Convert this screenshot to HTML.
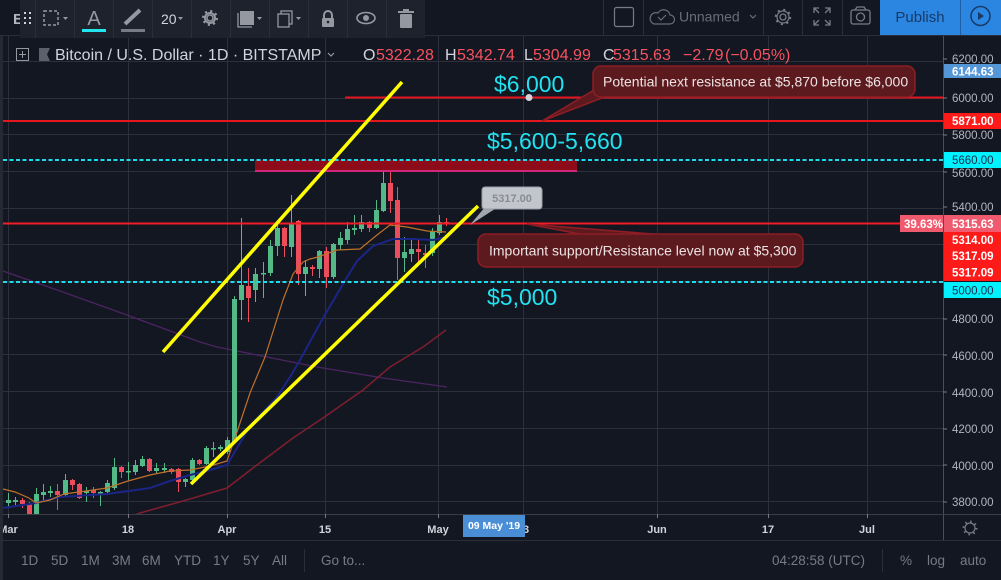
<!DOCTYPE html>
<html><head><meta charset="utf-8">
<style>
html,body{margin:0;padding:0;background:#131722;}
body{width:1001px;height:580px;overflow:hidden;}
svg{display:block;font-family:"Liberation Sans",Arial,sans-serif;}
</style></head><body>
<svg width="1001" height="580" viewBox="0 0 1001 580" xmlns="http://www.w3.org/2000/svg">
<defs>
<clipPath id="plot"><rect x="3" y="36" width="940" height="478"/></clipPath>
</defs>
<rect width="1001" height="580" fill="#131722"/>
<rect x="0" y="36" width="3" height="544" fill="#252933"/>

<!-- grid -->
<g stroke="#2c303b" stroke-width="1">
<line x1="8.5" y1="36" x2="8.5" y2="514"/>
<line x1="128.5" y1="36" x2="128.5" y2="514"/>
<line x1="227.5" y1="36" x2="227.5" y2="514"/>
<line x1="325.5" y1="36" x2="325.5" y2="514"/>
<line x1="438.5" y1="36" x2="438.5" y2="514"/>
<line x1="523.5" y1="36" x2="523.5" y2="514"/>
<line x1="657.5" y1="36" x2="657.5" y2="514"/>
<line x1="768.5" y1="36" x2="768.5" y2="514"/>
<line x1="867.5" y1="36" x2="867.5" y2="514"/>
<line x1="3" y1="61.5" x2="943" y2="61.5"/>
<line x1="3" y1="98.5" x2="943" y2="98.5"/>
<line x1="3" y1="134.5" x2="943" y2="134.5"/>
<line x1="3" y1="171.5" x2="943" y2="171.5"/>
<line x1="3" y1="208.5" x2="943" y2="208.5"/>
<line x1="3" y1="244.5" x2="943" y2="244.5"/>
<line x1="3" y1="281.5" x2="943" y2="281.5"/>
<line x1="3" y1="318.5" x2="943" y2="318.5"/>
<line x1="3" y1="354.5" x2="943" y2="354.5"/>
<line x1="3" y1="391.5" x2="943" y2="391.5"/>
<line x1="3" y1="428.5" x2="943" y2="428.5"/>
<line x1="3" y1="465.5" x2="943" y2="465.5"/>
<line x1="3" y1="501.5" x2="943" y2="501.5"/>
</g>

<g clip-path="url(#plot)">
<!-- purple MA -->
<polyline fill="none" stroke="#4b2461" stroke-width="1.3" points="3,271 60,291 127,315 200,342 217,347 317,367 383,378 447,387"/>
<!-- dark red MA -->
<polyline fill="none" stroke="#7d1e2e" stroke-width="1.6" points="125,519 140,513 183,501 227,488 253,468 293,438 323,418 363,390 390,367 423,347 446,330"/>

<!-- candles -->
<g id="candles">
<g fill="#53b987" stroke="#53b987">
<line x1="8.5" y1="493" x2="8.5" y2="508"/><rect x="6" y="500" width="5" height="3" stroke="none"/>
<line x1="15.5" y1="497" x2="15.5" y2="505"/><rect x="13" y="500" width="5" height="2" stroke="none"/>
<line x1="36.5" y1="488" x2="36.5" y2="514"/><rect x="34" y="494" width="5" height="20" stroke="none"/>
<line x1="43.5" y1="484" x2="43.5" y2="500"/><rect x="41" y="492" width="5" height="3" stroke="none"/>
<line x1="50.5" y1="486" x2="50.5" y2="497"/><rect x="48" y="491" width="5" height="2" stroke="none"/>
<line x1="65.5" y1="474" x2="65.5" y2="497"/><rect x="63" y="480" width="5" height="15" stroke="none"/>
<line x1="86.5" y1="487" x2="86.5" y2="502"/><rect x="84" y="491" width="5" height="2" stroke="none"/>
<line x1="100.5" y1="491" x2="100.5" y2="506"/><rect x="98" y="492" width="5" height="1.5" stroke="none"/>
<line x1="107.5" y1="480" x2="107.5" y2="495"/><rect x="105" y="483" width="5" height="9" stroke="none"/>
<line x1="114.5" y1="458" x2="114.5" y2="490"/><rect x="112" y="467" width="5" height="21" stroke="none"/>
<line x1="128.5" y1="462" x2="128.5" y2="480"/><rect x="126" y="471" width="5" height="1.5" stroke="none"/>
<line x1="135.5" y1="460" x2="135.5" y2="475"/><rect x="133" y="465" width="5" height="7" stroke="none"/>
<line x1="142.5" y1="456" x2="142.5" y2="467"/><rect x="140" y="459" width="5" height="7" stroke="none"/>
<line x1="156.5" y1="463" x2="156.5" y2="473"/><rect x="154" y="468" width="5" height="3" stroke="none"/>
<line x1="164.5" y1="463" x2="164.5" y2="473"/><rect x="162" y="468" width="5" height="2" stroke="none"/>
<line x1="185.5" y1="478" x2="185.5" y2="487"/><rect x="183" y="479" width="5" height="3" stroke="none"/>
<line x1="192.5" y1="458" x2="192.5" y2="482"/><rect x="190" y="460" width="5" height="20" stroke="none"/>
<line x1="206.5" y1="446" x2="206.5" y2="465"/><rect x="204" y="448" width="5" height="16" stroke="none"/>
<line x1="213.5" y1="442" x2="213.5" y2="457"/><rect x="211" y="448" width="5" height="1.5" stroke="none"/>
<line x1="220.5" y1="445" x2="220.5" y2="451"/><rect x="218" y="447" width="5" height="2" stroke="none"/>
<line x1="227.5" y1="437" x2="227.5" y2="454"/><rect x="225" y="440" width="5" height="12" stroke="none"/>
<line x1="234.5" y1="296" x2="234.5" y2="443"/><rect x="232" y="299" width="5" height="143" stroke="none"/>
<line x1="241.5" y1="218" x2="241.5" y2="320"/><rect x="239" y="285" width="5" height="15" stroke="none"/>
<line x1="255.5" y1="268" x2="255.5" y2="302"/><rect x="253" y="274" width="5" height="16" stroke="none"/>
<line x1="263.5" y1="262" x2="263.5" y2="298"/><rect x="261" y="273" width="5" height="1.5" stroke="none"/>
<line x1="270.5" y1="240" x2="270.5" y2="276"/><rect x="268" y="246" width="5" height="27" stroke="none"/>
<line x1="277.5" y1="222" x2="277.5" y2="256"/><rect x="275" y="228" width="5" height="18" stroke="none"/>
<line x1="291.5" y1="195" x2="291.5" y2="257"/><rect x="289" y="223" width="5" height="24" stroke="none"/>
<line x1="305.5" y1="260" x2="305.5" y2="296"/><rect x="303" y="267" width="5" height="7" stroke="none"/>
<line x1="319.5" y1="250" x2="319.5" y2="278"/><rect x="317" y="251" width="5" height="18" stroke="none"/>
<line x1="333.5" y1="243" x2="333.5" y2="279"/><rect x="331" y="244" width="5" height="33" stroke="none"/>
<line x1="340.5" y1="232" x2="340.5" y2="250"/><rect x="338" y="238" width="5" height="7" stroke="none"/>
<line x1="347.5" y1="222" x2="347.5" y2="244"/><rect x="345" y="229" width="5" height="11" stroke="none"/>
<line x1="354.5" y1="215" x2="354.5" y2="235"/><rect x="352" y="228" width="5" height="2" stroke="none"/>
<line x1="361.5" y1="215" x2="361.5" y2="232"/><rect x="359" y="222" width="5" height="7" stroke="none"/>
<line x1="376.5" y1="200" x2="376.5" y2="229"/><rect x="374" y="210" width="5" height="18" stroke="none"/>
<line x1="383.5" y1="165" x2="383.5" y2="212"/><rect x="381" y="183" width="5" height="28" stroke="none"/>
<line x1="404.5" y1="237" x2="404.5" y2="272"/><rect x="402" y="252" width="5" height="6" stroke="none"/>
<line x1="411.5" y1="240" x2="411.5" y2="262"/><rect x="409" y="249" width="5" height="5" stroke="none"/>
<line x1="432.5" y1="228" x2="432.5" y2="256"/><rect x="430" y="231" width="5" height="22" stroke="none"/>
<line x1="439.5" y1="215" x2="439.5" y2="235"/><rect x="437" y="222" width="5" height="11" stroke="none"/>
</g>
<g fill="#eb4d5c" stroke="#eb4d5c">
<line x1="22.5" y1="498" x2="22.5" y2="508"/><rect x="20" y="500" width="5" height="4" stroke="none"/>
<line x1="29.5" y1="502" x2="29.5" y2="514"/><rect x="27" y="504" width="5" height="10" stroke="none"/>
<line x1="57.5" y1="484" x2="57.5" y2="510"/><rect x="55" y="491" width="5" height="4" stroke="none"/>
<line x1="72.5" y1="479" x2="72.5" y2="490"/><rect x="70" y="480" width="5" height="5" stroke="none"/>
<line x1="79.5" y1="483" x2="79.5" y2="499"/><rect x="77" y="484" width="5" height="14" stroke="none"/>
<line x1="93.5" y1="487" x2="93.5" y2="498"/><rect x="91" y="490" width="5" height="3" stroke="none"/>
<line x1="121.5" y1="466" x2="121.5" y2="478"/><rect x="119" y="467" width="5" height="5" stroke="none"/>
<line x1="149.5" y1="458" x2="149.5" y2="472"/><rect x="147" y="459" width="5" height="12" stroke="none"/>
<line x1="171.5" y1="468" x2="171.5" y2="474"/><rect x="169" y="469" width="5" height="3" stroke="none"/>
<line x1="178.5" y1="468" x2="178.5" y2="492"/><rect x="176" y="469" width="5" height="13" stroke="none"/>
<line x1="199.5" y1="459" x2="199.5" y2="465"/><rect x="197" y="460" width="5" height="4" stroke="none"/>
<line x1="248.5" y1="268" x2="248.5" y2="322"/><rect x="246" y="286" width="5" height="12" stroke="none"/>
<line x1="284.5" y1="227" x2="284.5" y2="257"/><rect x="282" y="228" width="5" height="18" stroke="none"/>
<line x1="298.5" y1="220" x2="298.5" y2="285"/><rect x="296" y="221" width="5" height="53" stroke="none"/>
<line x1="312.5" y1="265" x2="312.5" y2="276"/><rect x="310" y="267" width="5" height="2" stroke="none"/>
<line x1="326.5" y1="247" x2="326.5" y2="288"/><rect x="324" y="251" width="5" height="26" stroke="none"/>
<line x1="369.5" y1="221" x2="369.5" y2="232"/><rect x="367" y="222" width="5" height="6" stroke="none"/>
<line x1="390.5" y1="170" x2="390.5" y2="213"/><rect x="388" y="183" width="5" height="18" stroke="none"/>
<line x1="397.5" y1="187" x2="397.5" y2="280"/><rect x="395" y="200" width="5" height="58" stroke="none"/>
<line x1="418.5" y1="240" x2="418.5" y2="262"/><rect x="416" y="249" width="5" height="3" stroke="none"/>
<line x1="425.5" y1="245" x2="425.5" y2="268"/><rect x="423" y="253" width="5" height="2" stroke="none"/>
<line x1="446.5" y1="218" x2="446.5" y2="226"/><rect x="444" y="222" width="5" height="1.5" stroke="none"/>
</g>
</g>

<!-- blue MA -->
<polyline fill="none" stroke="#1a2585" stroke-width="2" points="3,508 36,503 60,497 107,494 150,488 170,481 190,475 210,470 227,465 237,448 250,426 277,397 290,377 300,360 323,318 343,284 357,261 373,246 393,239 413,239 433,240 446,237"/>
<!-- orange MA -->
<polyline fill="none" stroke="#c0702a" stroke-width="1.2" points="3,489 15,492 29,498 36,503 50,500 64,494 86,491 107,488 128,481 150,475 170,471 190,470 210,466 227,461 237,432 250,393 265,357 283,300 293,274 303,262 310,259 318,257 337,250 360,249 377,235 390,225 407,227 427,231 446,232"/>
</g>

<!-- rectangle zone -->
<rect x="255" y="160" width="322" height="11" fill="#8e0c19"/>
<rect x="255" y="170" width="322" height="2" fill="#d3267a"/>

<!-- horizontal lines -->
<line x1="345" y1="97.5" x2="943" y2="97.5" stroke="#e5161e" stroke-width="2"/>
<line x1="3" y1="121" x2="943" y2="121" stroke="#e5161e" stroke-width="2"/>
<line x1="3" y1="160" x2="943" y2="160" stroke="#1fdcec" stroke-width="2" stroke-dasharray="4 2.5"/>
<line x1="3" y1="223.5" x2="943" y2="223.5" stroke="#f01c26" stroke-width="2"/>
<line x1="3" y1="282" x2="943" y2="282" stroke="#1fdcec" stroke-width="2" stroke-dasharray="4 2.5"/>
<circle cx="529" cy="97.5" r="3.5" fill="#d1d4dc"/>

<!-- yellow channel -->
<line x1="163" y1="352" x2="402" y2="82" stroke="#ffff00" stroke-width="3.5"/>
<line x1="191" y1="484" x2="478" y2="206" stroke="#ffff00" stroke-width="3.5"/>

<!-- cyan level texts -->
<g fill="#22e2ef" font-size="23">
<text x="494" y="92">$6,000</text>
<text x="487" y="149">$5,600-5,660</text>
<text x="487" y="305">$5,000</text>
</g>

<!-- callout 1 -->
<g fill="#5c1a1f" stroke="#8f1d25" stroke-width="1.5">
<polygon points="542,121 594,90 607,96"/>
<rect x="593" y="66" width="322" height="31" rx="8"/>
<polygon points="527,224 585,235 665,235"/>
<rect x="478" y="234" width="325" height="33" rx="8"/>
</g>
<rect x="596" y="86" width="16" height="9" fill="#5c1a1f"/>
<rect x="590" y="235" width="70" height="3" fill="#5c1a1f"/>
<g fill="#ece4e4" font-size="14">
<text x="603" y="86.5">Potential next resistance at $5,870 before $6,000</text>
<text x="489" y="255.5">Important support/Resistance level now at $5,300</text>
</g>

<!-- gray price callout -->
<polygon points="470,225 485,207 498,207" fill="#a3a6ae"/>
<rect x="482" y="187" width="60" height="22" rx="3" fill="#c2c5cc" stroke="#9a9da6"/>
<text x="512" y="202" font-size="11" font-weight="bold" fill="#888c96" text-anchor="middle">5317.00</text>

<!-- price axis -->
<line x1="943.5" y1="35" x2="943.5" y2="540" stroke="#4a4e59"/>
<g stroke="#787b86">
<line x1="943" y1="59" x2="947" y2="59"/><line x1="943" y1="98" x2="947" y2="98"/>
<line x1="943" y1="135" x2="947" y2="135"/><line x1="943" y1="172" x2="947" y2="172"/>
<line x1="943" y1="207" x2="947" y2="207"/><line x1="943" y1="319" x2="947" y2="319"/>
<line x1="943" y1="355" x2="947" y2="355"/><line x1="943" y1="392" x2="947" y2="392"/>
<line x1="943" y1="429" x2="947" y2="429"/><line x1="943" y1="465" x2="947" y2="465"/>
<line x1="943" y1="502" x2="947" y2="502"/>
</g>
<g fill="#b2b5be" font-size="11.5">
<text x="952" y="63">6200.00</text>
<text x="952" y="102">6000.00</text>
<text x="952" y="139">5800.00</text>
<text x="952" y="177">5600.00</text>
<text x="952" y="211">5400.00</text>
<text x="952" y="323">4800.00</text>
<text x="952" y="360">4600.00</text>
<text x="952" y="397">4400.00</text>
<text x="952" y="433">4200.00</text>
<text x="952" y="470">4000.00</text>
<text x="952" y="506">3800.00</text>
</g>
<rect x="944" y="64" width="57" height="14" fill="#5596d6"/>
<rect x="944" y="113" width="57" height="16" fill="#ff1a1a"/>
<rect x="944" y="152" width="57" height="16" fill="#00f2ff"/>
<rect x="944" y="215" width="57" height="17" fill="#f05a6e"/>
<rect x="900" y="215" width="43" height="17" fill="#f05a6e"/>
<rect x="944" y="232" width="57" height="16" fill="#ff1a1a"/>
<rect x="944" y="248" width="57" height="16" fill="#ff1a1a"/>
<rect x="944" y="264" width="57" height="17" fill="#ff1a1a"/>
<rect x="944" y="282" width="57" height="16" fill="#00f2ff"/>
<g font-size="11.5" font-weight="bold" fill="#ffffff">
<text x="952" y="75.5">6144.63</text>
<text x="952" y="125">5871.00</text>
<text x="952" y="228">5315.63</text>
<text x="904" y="228">39.63%</text>
<text x="952" y="244">5314.00</text>
<text x="952" y="260">5317.09</text>
<text x="952" y="276.5">5317.09</text>
</g>
<g font-size="11.5" fill="#1a2a48">
<text x="952" y="164">5660.00</text>
<text x="952" y="294.5">5000.00</text>
</g>

<!-- time axis -->
<line x1="0" y1="514.5" x2="1001" y2="514.5" stroke="#3a3e49"/>
<g stroke="#787b86">
<line x1="8.5" y1="514" x2="8.5" y2="518"/><line x1="128.5" y1="514" x2="128.5" y2="518"/>
<line x1="227.5" y1="514" x2="227.5" y2="518"/><line x1="325.5" y1="514" x2="325.5" y2="518"/>
<line x1="438.5" y1="514" x2="438.5" y2="518"/><line x1="657.5" y1="514" x2="657.5" y2="518"/>
<line x1="768.5" y1="514" x2="768.5" y2="518"/><line x1="867.5" y1="514" x2="867.5" y2="518"/>
</g>
<g fill="#d1d4dc" font-size="11" font-weight="bold" text-anchor="middle">
<text x="8" y="533">Mar</text>
<text x="128" y="533">18</text>
<text x="227" y="533">Apr</text>
<text x="325" y="533">15</text>
<text x="438" y="533">May</text>
<text x="523" y="533">13</text>
<text x="657" y="533">Jun</text>
<text x="768" y="533">17</text>
<text x="867" y="533">Jul</text>
</g>
<rect x="0" y="514" width="3" height="26" fill="#252933"/>
<rect x="463" y="515" width="62" height="22" fill="#4a8fd6"/>
<text x="494" y="529" fill="#ffffff" font-size="10.5" font-weight="bold" text-anchor="middle">09 May '19</text>
<!-- gear bottom right -->
<g transform="translate(970,528)" fill="none" stroke="#787b86">
<circle r="5" stroke-width="1.2"/>
<circle r="6.5" stroke-width="2" stroke-dasharray="1.5 3.6"/>
</g>

<!-- bottom bar -->
<line x1="0" y1="540.5" x2="1001" y2="540.5" stroke="#2a2e39"/>
<g fill="#787b86" font-size="13.5">
<text x="21" y="565">1D</text>
<text x="51" y="565">5D</text>
<text x="81" y="565">1M</text>
<text x="112" y="565">3M</text>
<text x="142" y="565">6M</text>
<text x="174" y="565">YTD</text>
<text x="213" y="565">1Y</text>
<text x="243" y="565">5Y</text>
<text x="272" y="565">All</text>
<text x="321" y="565">Go to...</text>
<text x="772" y="565">04:28:58 (UTC)</text>
<text x="900" y="565">%</text>
<text x="927" y="565">log</text>
<text x="960" y="565">auto</text>
</g>
<line x1="304.5" y1="549" x2="304.5" y2="572" stroke="#2a2e39"/>
<line x1="882.5" y1="549" x2="882.5" y2="572" stroke="#2a2e39"/>

<!-- header legend -->
<g fill="none" stroke="#9598a1">
<rect x="16.5" y="48.5" width="12" height="12"/>
<line x1="22.5" y1="51" x2="22.5" y2="58"/><line x1="19" y1="54.5" x2="26" y2="54.5"/>
</g>
<polygon points="39,48 50,48 47,54.5 50,61 39,61" fill="#5d606b"/>
<text x="55" y="60" font-size="16" fill="#d1d4dc">Bitcoin / U.S. Dollar · 1D · BITSTAMP</text>
<path d="M328 53 l3 3 l3 -3" fill="none" stroke="#9598a1" stroke-width="1.2"/>
<g font-size="16">
<text x="363" y="60" fill="#d1d4dc">O</text><text x="376" y="60" fill="#f7525f">5322.28</text>
<text x="445" y="60" fill="#d1d4dc">H</text><text x="457" y="60" fill="#f7525f">5342.74</text>
<text x="524" y="60" fill="#d1d4dc">L</text><text x="533" y="60" fill="#f7525f">5304.99</text>
<text x="603" y="60" fill="#d1d4dc">C</text><text x="613" y="60" fill="#f7525f">5315.63</text>
<text x="683" y="60" fill="#f7525f">−2.79</text>
<text x="725" y="60" fill="#f7525f">(−0.05%)</text>
</g>

<!-- top bar -->
<line x1="0" y1="35.5" x2="1001" y2="35.5" stroke="#2a2e39"/>
<text x="13" y="24" font-size="15" font-weight="bold" fill="#b2b5be">B</text>
<g stroke="#2a2e39">
<line x1="603.5" y1="0" x2="603.5" y2="35"/>
<line x1="643.5" y1="0" x2="643.5" y2="35"/>
<line x1="763.5" y1="0" x2="763.5" y2="35"/>
<line x1="802.5" y1="0" x2="802.5" y2="35"/>
<line x1="842.5" y1="0" x2="842.5" y2="35"/>
</g>
<rect x="614.5" y="7.5" width="19" height="19" rx="2" fill="none" stroke="#787b86" stroke-width="1.2"/>
<g fill="none" stroke="#6a6d78" stroke-width="1.2">
<path d="M654 24 h16 a4.5 4.5 0 0 0 0 -9 a6.5 6.5 0 0 0 -12 -2 a5.5 5.5 0 0 0 -4 11 z"/>
<path d="M658 17 l3 3 l5 -5"/>
<path d="M750 15 l3 3 l3 -3"/>
</g>
<text x="679" y="21.5" font-size="14" fill="#6a6d78">Unnamed</text>
<g transform="translate(783,17)" fill="none" stroke="#787b86">
<circle r="3" stroke-width="1.3"/>
<circle r="7" stroke-width="2.5" stroke-dasharray="2 3.5"/>
<circle r="6" stroke-width="1.2"/>
</g>
<g fill="none" stroke="#787b86" stroke-width="1.3">
<path d="M814 13 v-5 h5 M814 8 l5 5 M830 13 v-5 h-5 M830 8 l-5 5 M814 20 v5 h5 M814 25 l5 -5 M830 20 v5 h-5 M830 25 l-5 -5"/>
<rect x="851" y="10" width="19" height="14" rx="2"/>
<circle cx="860.5" cy="17" r="4"/>
<path d="M855 10 l2 -3 h7 l2 3"/>
</g>
<rect x="880" y="0" width="121" height="35" fill="#2a86e0"/>
<line x1="960.5" y1="0" x2="960.5" y2="35" stroke="#1d5fa6"/>
<text x="920" y="22" font-size="15" fill="#183a68" text-anchor="middle">Publish</text>
<circle cx="980.5" cy="16" r="9.5" fill="none" stroke="#183a68" stroke-width="1.5"/>
<polygon points="978,12 978,20 984,16" fill="#183a68"/>

<!-- floating drawing toolbar -->
<rect x="20" y="0" width="405" height="38" fill="#1e222d"/>
<g stroke="#2a2e39">
<line x1="35.5" y1="0" x2="35.5" y2="38"/>
<line x1="74.5" y1="0" x2="74.5" y2="38"/>
<line x1="113.5" y1="0" x2="113.5" y2="38"/>
<line x1="152.5" y1="0" x2="152.5" y2="38"/>
<line x1="191.5" y1="0" x2="191.5" y2="38"/>
<line x1="230.5" y1="0" x2="230.5" y2="38"/>
<line x1="269.5" y1="0" x2="269.5" y2="38"/>
<line x1="308.5" y1="0" x2="308.5" y2="38"/>
<line x1="347.5" y1="0" x2="347.5" y2="38"/>
<line x1="386.5" y1="0" x2="386.5" y2="38"/>
</g>
<g fill="#d1d4dc">
<rect x="24" y="12" width="2" height="2"/><rect x="29" y="12" width="2" height="2"/>
<rect x="24" y="17" width="2" height="2"/><rect x="29" y="17" width="2" height="2"/>
<rect x="24" y="22" width="2" height="2"/><rect x="29" y="22" width="2" height="2"/>
</g>
<rect x="44" y="11" width="14" height="14" fill="none" stroke="#9598a1" stroke-width="1.5" stroke-dasharray="3 2"/>
<g fill="#9598a1">
<polygon points="63,17 68,17 65.5,20"/>
<polygon points="178,17 183,17 180.5,20"/>
<polygon points="257,17 262,17 259.5,20"/>
<polygon points="296,17 301,17 298.5,20"/>
</g>
<text x="94" y="25" font-size="20" fill="#9598a1" text-anchor="middle">A</text>
<rect x="82" y="29" width="24" height="3" fill="#22e5ee"/>
<line x1="125" y1="24" x2="140" y2="10" stroke="#9598a1" stroke-width="4"/>
<rect x="121" y="29" width="24" height="3" fill="#787b86"/>
<text x="161" y="24" font-size="14" fill="#d1d4dc">20</text>
<g transform="translate(210,18)" fill="none" stroke="#9598a1">
<circle r="3" stroke-width="1.5"/>
<circle r="6.5" stroke-width="3" stroke-dasharray="2 3.1"/>
<circle r="5" stroke-width="2"/>
</g>
<rect x="240" y="11" width="14" height="14" fill="#9598a1"/>
<path d="M238 13 v14 h14" fill="none" stroke="#9598a1" stroke-width="1.3"/>
<g fill="none" stroke="#9598a1" stroke-width="1.3">
<rect x="281" y="11" width="11" height="13"/>
<rect x="278" y="14" width="11" height="13" fill="#1e222d"/>
<path d="M324 18 v-3 a4 4 0 0 1 8 0 v3" stroke-width="2"/>
<ellipse cx="366" cy="18" rx="9" ry="5.5" stroke-width="1.6"/>
</g>
<rect x="322" y="18" width="12" height="9" rx="1" fill="#9598a1"/>
<circle cx="328" cy="22" r="1.3" fill="#1e222d"/>
<circle cx="366" cy="18" r="3" fill="#9598a1"/>
<rect x="400" y="14" width="12" height="14" rx="1" fill="#9598a1"/>
<rect x="398" y="11" width="16" height="2" fill="#9598a1"/>
<rect x="403" y="9" width="6" height="2" fill="#9598a1"/>
</svg>
</body></html>
